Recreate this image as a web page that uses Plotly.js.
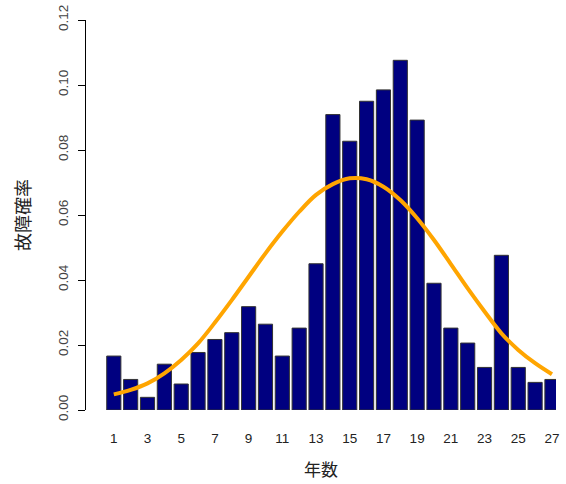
<!DOCTYPE html>
<html>
<head>
<meta charset="utf-8">
<script src="https://cdn.plot.ly/plotly-3.0.1.min.js"></script>
<style>html,body{margin:0;padding:0;background:#fff;}#chart{width:566px;height:484px;}</style>
</head>
<body>
<div id="chart"></div>
<script>
const years = [1,2,3,4,5,6,7,8,9,10,11,12,13,14,15,16,17,18,19,20,21,22,23,24,25,26,27];
const failureRate = [0.0166,0.0094,0.0039,0.0141,0.0080,0.0177,0.0217,0.0238,0.0318,0.0264,0.0166,0.0252,0.0450,0.0909,0.0827,0.0950,0.0985,0.1076,0.0892,0.0390,0.0252,0.0206,0.0131,0.0476,0.0131,0.0085,0.0094];
const curveRate = [0.0048,0.0062,0.0082,0.0113,0.0154,0.0205,0.0269,0.0338,0.0410,0.0482,0.0549,0.0610,0.0662,0.0695,0.0713,0.0710,0.0687,0.0646,0.0590,0.0523,0.0449,0.0374,0.0303,0.0236,0.0185,0.0144,0.0110];
const xTickVals = [1,3,5,7,9,11,13,15,17,19,21,23,25,27];
const yTickVals = [0,0.02,0.04,0.06,0.08,0.10,0.12];
const yTickText = ['0.00','0.02','0.04','0.06','0.08','0.10','0.12'];

const font = 'Liberation Sans, Arial, "Noto Sans CJK JP", sans-serif';

const traces = [
  {type:'bar', x:years, y:failureRate, width:0.84,
   marker:{color:'#000080', line:{color:'#333333', width:1}}, hoverinfo:'x+y'},
  {type:'scatter', mode:'lines', x:years, y:curveRate,
   line:{color:'#FFA500', width:4, shape:'spline'}}
];

const layout = {
  width:566, height:484,
  margin:{l:86, r:10, t:20, b:74},
  showlegend:false,
  paper_bgcolor:'#fff', plot_bgcolor:'#fff',
  font:{family:font, color:'#000'},
  bargap:0,
  xaxis:{range:[-0.65,27.24], showgrid:false, zeroline:false, showline:false,
    tickvals:xTickVals, ticktext:xTickVals.map(String),
    ticks:'outside', ticklen:16, tickcolor:'rgba(0,0,0,0)',
    tickfont:{size:13.5, color:'#222'},
    title:{text:'年数', font:{size:17, color:'#222'}, standoff:18}},
  yaxis:{range:[0,0.12], showgrid:false, zeroline:false, showline:true, linecolor:'#000', linewidth:1,
    tickvals:yTickVals, ticktext:yTickText, ticks:'outside', ticklen:7, tickcolor:'#000',
    tickangle:-90, tickfont:{size:13.5, color:'#444'}, ticklabelstandoff:5,
    title:{text:'故障確率', font:{size:18, color:'#222'}, standoff:20}}
};

Plotly.newPlot('chart', traces, layout, {displayModeBar:false, staticPlot:true});
</script>
</body>
</html>
